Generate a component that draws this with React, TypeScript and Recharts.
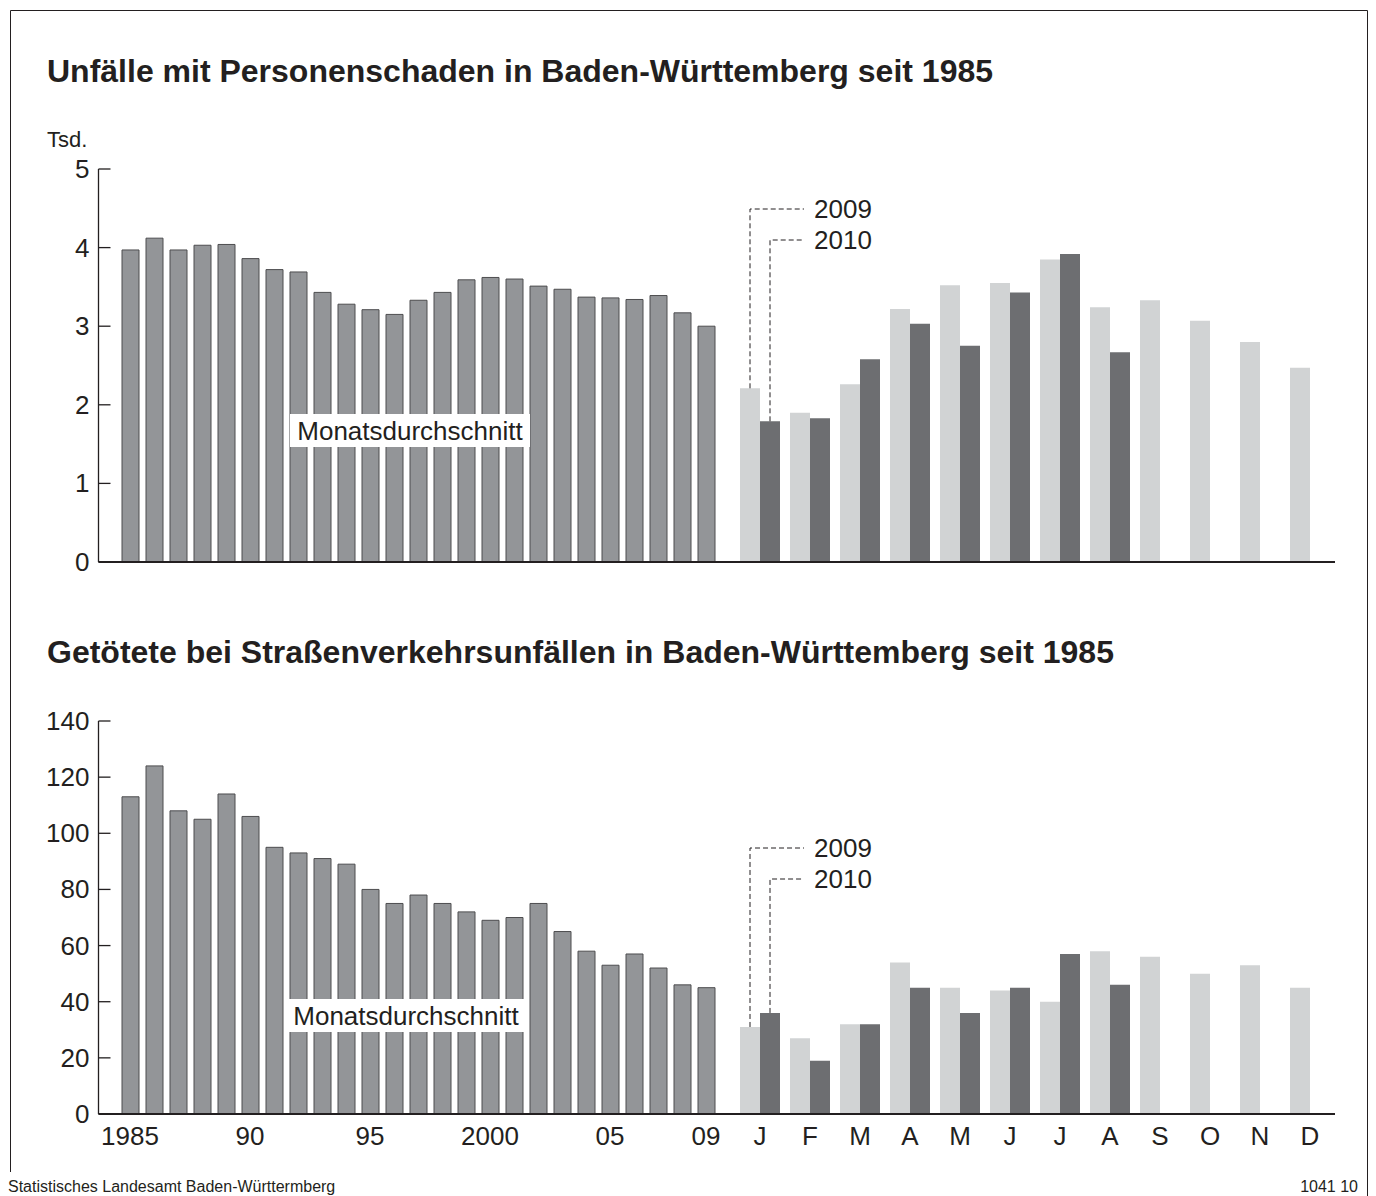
import { BarChart, Bar, XAxis, YAxis, LabelList } from 'recharts';

// Jahre (Jahresmittel, Monatsdurchschnitt)
const years = [
  1985, 1986, 1987, 1988, 1989, 1990, 1991, 1992, 1993, 1994, 1995, 1996, 1997,
  1998, 1999, 2000, 2001, 2002, 2003, 2004, 2005, 2006, 2007, 2008, 2009,
];
const yearTickLabels: Record<number, string> = {
  1985: '1985',
  1990: '90',
  1995: '95',
  2000: '2000',
  2005: '05',
  2009: '09',
};
const months = ['Jan', 'Feb', 'Mär', 'Apr', 'Mai', 'Jun', 'Jul', 'Aug', 'Sep', 'Okt', 'Nov', 'Dez'];
const monthInitials = ['J', 'F', 'M', 'A', 'M', 'J', 'J', 'A', 'S', 'O', 'N', 'D'];

// Unfälle mit Personenschaden, Tsd.
const accidentsYearly = [
  3.97, 4.12, 3.97, 4.03, 4.04, 3.86, 3.72, 3.69, 3.43, 3.28, 3.21, 3.15, 3.33,
  3.43, 3.59, 3.62, 3.6, 3.51, 3.47, 3.37, 3.36, 3.34, 3.39, 3.17, 3.0,
];
const accidents2009 = [2.21, 1.9, 2.26, 3.22, 3.52, 3.55, 3.85, 3.24, 3.33, 3.07, 2.8, 2.47];
const accidents2010 = [1.79, 1.83, 2.58, 3.03, 2.75, 3.43, 3.92, 2.67, null, null, null, null];

// Getötete
const deathsYearly = [
  113, 124, 108, 105, 114, 106, 95, 93, 91, 89, 80, 75, 78,
  75, 72, 69, 70, 75, 65, 58, 53, 57, 52, 46, 45,
];
const deaths2009 = [31, 27, 32, 54, 45, 44, 40, 58, 56, 50, 53, 45];
const deaths2010 = [36, 19, 32, 45, 36, 45, 57, 46, null, null, null, null];

const ink = '#231f20';
const yearFill = '#939598';
const yearStroke = '#4d4d4f';
const light = '#d1d3d4';
const dark = '#6d6e71';
const font = '"Liberation Sans", Arial, sans-serif';

const YTick = (props: any) => {
  const { x, y, payload } = props;
  return (
    <g>
      <line x1={x} x2={x + 12} y1={y} y2={y} stroke={ink} strokeWidth={1.3} />
      <text x={x - 9} y={y} textAnchor="end" dominantBaseline="central" fontSize={26} fill={ink}>
        {payload.value}
      </text>
    </g>
  );
};

const yearTag = (text: string, lineY: number, endOffset: number) => (props: any) => {
  if (props.index !== 0) return null;
  const vb = props.viewBox ?? props;
  const bx = Number(vb.x ?? props.x);
  const by = Number(vb.y ?? props.y);
  const bw = Number(vb.width ?? props.width);
  const cx = bx + bw / 2;
  const endX = bx + endOffset;
  return (
    <g>
      <path
        d={`M${cx},${by} V${lineY} H${endX}`}
        fill="none"
        stroke={ink}
        strokeWidth={1}
        strokeDasharray="5 3"
      />
      <text x={endX + 10} y={lineY} dominantBaseline="central" fontSize={26} fill={ink}>
        {text}
      </text>
    </g>
  );
};

interface PanelProps {
  top: number;
  yearly: number[];
  m2009: number[];
  m2010: (number | null)[];
  max: number;
  ticks: number[];
  showX: boolean;
  tag09: number;
  tag10: number;
}

function Panel({ top, yearly, m2009, m2010, max, ticks, showX, tag09, tag10 }: PanelProps) {
  const yearData = years.map((year, i) => ({ year, value: yearly[i] }));
  const monthData = months.map((month, i) => ({ month, y2009: m2009[i], y2010: m2010[i] }));
  const xh = showX ? 40 : 20;
  const mt = showX ? 21 : 19;
  const h = mt + 393 + xh;

  return (
    <>
      <div style={{ position: 'absolute', left: 0, top }}>
        <BarChart width={735} height={h} data={yearData} margin={{ top: mt, right: 0, bottom: 0, left: 0 }}>
          <XAxis
            dataKey="year"
            interval={0}
            height={xh}
            padding={{ left: 19.5, right: 17 }}
            axisLine={{ stroke: ink, strokeWidth: 2 }}
            tickLine={false}
            tickSize={0}
            tickMargin={13}
            tick={showX ? { fill: ink, fontSize: 26 } : false}
            tickFormatter={(v: number) => yearTickLabels[v] ?? ''}
          />
          <YAxis
            domain={[0, max]}
            ticks={ticks}
            width={98.5}
            axisLine={{ stroke: ink, strokeWidth: 1.3 }}
            tickLine={false}
            tickSize={0}
            tickMargin={0}
            tick={<YTick />}
          />
          <Bar
            dataKey="value"
            fill={yearFill}
            stroke={yearStroke}
            strokeWidth={1}
            barSize={17}
            isAnimationActive={false}
          />
        </BarChart>
      </div>
      <div style={{ position: 'absolute', left: 735, top }}>
        <BarChart
          width={600}
          height={h}
          data={monthData}
          barGap={0}
          margin={{ top: mt, right: 0, bottom: 0, left: 0 }}
        >
          <XAxis
            dataKey="month"
            interval={0}
            height={xh}
            axisLine={{ stroke: ink, strokeWidth: 2 }}
            tickLine={false}
            tickSize={0}
            tickMargin={13}
            tick={showX ? { fill: ink, fontSize: 26 } : false}
            tickFormatter={(_v: string, i: number) => monthInitials[i]}
          />
          <YAxis hide domain={[0, max]} ticks={ticks} />
          <Bar dataKey="y2009" fill={light} barSize={20} isAnimationActive={false}>
            <LabelList dataKey="y2009" content={yearTag('2009', tag09, 64)} />
          </Bar>
          <Bar dataKey="y2010" fill={dark} barSize={20} isAnimationActive={false}>
            <LabelList dataKey="y2010" content={yearTag('2010', tag10, 44)} />
          </Bar>
        </BarChart>
      </div>
    </>
  );
}

export default function App() {
  return (
    <div
      style={{
        position: 'absolute',
        left: 0,
        top: 0,
        width: 1376,
        height: 1196,
        background: '#fff',
        overflow: 'hidden',
        fontFamily: font,
        color: ink,
      }}
    >
      <Panel
        top={150}
        yearly={accidentsYearly}
        m2009={accidents2009}
        m2010={accidents2010}
        max={5}
        ticks={[0, 1, 2, 3, 4, 5]}
        showX={false}
        tag09={59}
        tag10={90}
      />
      <Panel
        top={700}
        yearly={deathsYearly}
        m2009={deaths2009}
        m2010={deaths2010}
        max={140}
        ticks={[0, 20, 40, 60, 80, 100, 120, 140]}
        showX={true}
        tag09={148}
        tag10={179}
      />
      <svg
        width={1376}
        height={1196}
        style={{ position: 'absolute', left: 0, top: 0, pointerEvents: 'none' }}
        fontFamily={font}
        fill={ink}
      >
        <path d="M10.5,1172 V10.5 H1367.5 V1196" fill="none" stroke={ink} strokeWidth={1} />
        <text x={47} y={82} fontSize={32} fontWeight="bold">
          Unfälle mit Personenschaden in Baden-Württemberg seit 1985
        </text>
        <text x={47} y={147} fontSize={22}>
          Tsd.
        </text>
        <rect x={290} y={414} width={240} height={33} fill="#fff" />
        <text x={410} y={440} fontSize={26} textAnchor="middle">
          Monatsdurchschnitt
        </text>
        <text x={47} y={663} fontSize={32} fontWeight="bold">
          Getötete bei Straßenverkehrsunfällen in Baden-Württemberg seit 1985
        </text>
        <rect x={288} y={999} width={236} height={33} fill="#fff" />
        <text x={406} y={1025} fontSize={26} textAnchor="middle">
          Monatsdurchschnitt
        </text>
        <text x={8} y={1192} fontSize={16}>
          Statistisches Landesamt Baden-Württermberg
        </text>
        <text x={1358} y={1192} fontSize={16} textAnchor="end">
          1041 10
        </text>
      </svg>
    </div>
  );
}
